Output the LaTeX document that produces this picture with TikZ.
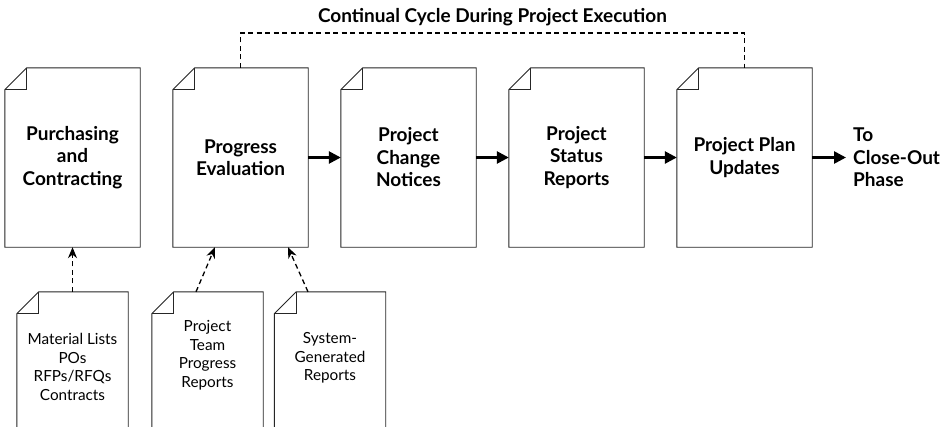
\documentclass[tikz,border=0pt]{standalone}
\usepackage{fontspec}
\setmainfont{Lato}
\usetikzlibrary{arrows.meta,calc}
\tikzset{
  docbox/.style={draw=none,minimum width=135pt,minimum height=179pt,inner sep=0pt,
    align=center,font=\fontsize{19}{22.5}\selectfont\bfseries},
  smalldoc/.style={draw=none,minimum width=111pt,minimum height=148pt,inner sep=0pt},
  smalltxt/.style={align=center,inner sep=0pt,font=\fontsize{15.3}{18.5}\selectfont},
  docline/.style={draw=black!85,line width=0.9pt},
  flow/.style={line width=2.6pt,-{Triangle[length=12pt,width=12pt]}},
  feed/.style={line width=1.3pt,dash pattern=on 5pt off 3.5pt,-{Stealth[length=11pt,width=9pt]}},
  cycle/.style={line width=1.1pt,dash pattern=on 5pt off 3.5pt},
}
\newcommand\drawdoc[1]{%
  \draw[docline] (#1.south west) -- ([yshift=-22pt]#1.north west) -- ([xshift=22pt]#1.north west)
     -- (#1.north east) -- (#1.south east) -- cycle;
  \draw[docline] ([yshift=-22pt]#1.north west) -- ([xshift=22pt,yshift=-22pt]#1.north west)
     -- ([xshift=22pt]#1.north west);}
\begin{document}
\begin{tikzpicture}[x=1pt,y=-1pt]
\useasboundingbox (0,0) rectangle (948,426);
\clip (0,0) rectangle (948,426);
\fill[white] (0,0) rectangle (948,426);
% top documents
\node[docbox] (pur) at (72.5,157.5) {Purchasing\\and\\Contracting};
\node[docbox] (prog) at (240.5,157.5) {Progress\\Evaluation};
\node[docbox] (chg) at (408.5,157.5) {Project\\Change\\Notices};
\node[docbox] (stat) at (576.5,157.5) {Project\\Status\\Reports};
\node[docbox] (upd) at (744.5,157.5) {Project Plan\\Updates};
\foreach \n in {pur,prog,chg,stat,upd}{\drawdoc{\n}}
% bottom documents
\node[smalldoc] (mat) at (72.5,366) {};
\node[smalldoc] (team) at (207.5,366) {};
\node[smalldoc] (sys) at (330,366) {};
\foreach \n in {mat,team,sys}{\drawdoc{\n}}
\node[smalltxt] (matt) at (72.5,367) {Material Lists\\POs\\RFPs/RFQs\\Contracts};
\node[smalltxt] (teamt) at (207.5,355) {Project\\Team\\Progress\\Reports};
\node[smalltxt] (syst) at (330,358) {System-\\Generated\\Reports};
% output text
\node[align=left,anchor=west,inner sep=0pt,font=\fontsize{19}{22.5}\selectfont\bfseries] (out) at (853,157.5) {To\\Close-Out\\Phase};
% title
\node[font=\fontsize{19}{22}\selectfont\bfseries,inner sep=0pt] (title) at (492.5,17) {Continual Cycle During Project Execution};
% flow arrows
\draw[flow] (prog.east) -- (chg.west);
\draw[flow] (chg.east) -- (stat.west);
\draw[flow] (stat.east) -- (upd.west);
\draw[flow] (upd.east) -- ([xshift=-7pt]out.west);
% feed arrows
\draw[feed] (mat.north) -- (pur.south);
\draw[feed] ([xshift=-11.5pt]team.north) -- ([xshift=-25.5pt]prog.south);
\draw[feed] ([xshift=-22pt]sys.north) -- ([xshift=47.5pt]prog.south);
% cycle line
\coordinate (cyc) at (240.5,33);
\draw[cycle] (prog.north) -- (cyc) -| (upd.north);
\end{tikzpicture}
\end{document}
